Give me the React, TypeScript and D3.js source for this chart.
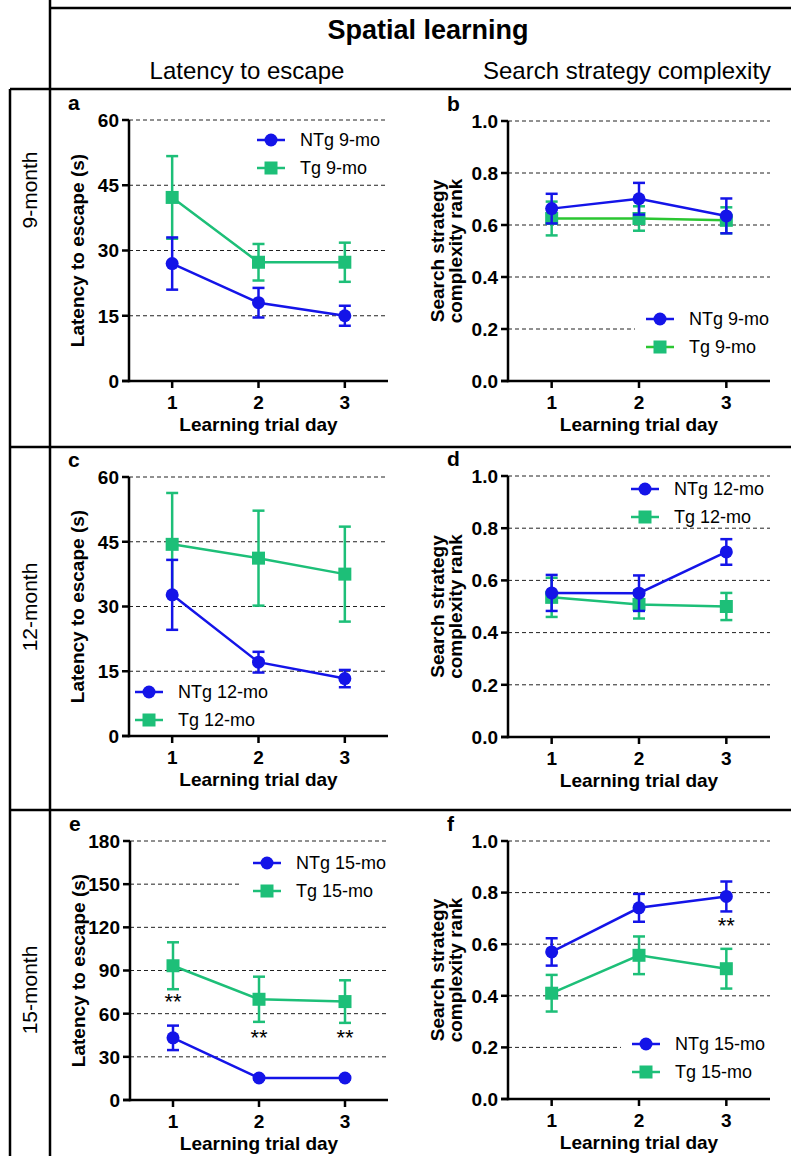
import React, { useEffect } from "react";
import * as d3 from "d3";

const days = [1, 2, 3];
const dayTicks = ["1", "2", "3"];

// Panel a (9-month latency)
const aNTg = [27, 18, 15];
const aNTgErr = [6, 3.4, 2.3];
const aTg = [42.2, 27.3, 27.3];
const aTgErr = [9.5, 4.2, 4.5];
// Panel b (9-month complexity)
const bNTg = [0.663, 0.701, 0.635];
const bNTgErr = [0.057, 0.061, 0.067];
const bTg = [0.625, 0.625, 0.618];
const bTgErr = [0.065, 0.047, 0.05];
// Panel c (12-month latency)
const cNTg = [32.7, 17.1, 13.3];
const cNTgErr = [8.1, 2.4, 2.0];
const cTg = [44.4, 41.2, 37.5];
const cTgErr = [11.9, 11.0, 11.0];
// Panel d (12-month complexity)
const dNTg = [0.552, 0.551, 0.709];
const dNTgErr = [0.069, 0.068, 0.049];
const dTg = [0.535, 0.508, 0.5];
const dTgErr = [0.075, 0.054, 0.052];
// Panel e (15-month latency)
const eNTg = [43.2, 15.3, 15.3];
const eNTgErr = [8.5, 1.0, 1.0];
const eTg = [93.3, 70, 68.4];
const eTgErr = [16.3, 15.7, 14.8];
// Panel f (15-month complexity)
const fNTg = [0.57, 0.741, 0.785];
const fNTgErr = [0.053, 0.054, 0.058];
const fTg = [0.41, 0.557, 0.505];
const fTgErr = [0.071, 0.073, 0.077];

const latTicks9 = [0, 15, 30, 45, 60];
const latTicks15 = [0, 30, 60, 90, 120, 150, 180];
const rankTicks = [0, 0.2, 0.4, 0.6, 0.8, 1.0];

const BLUE = "#1414E8";
const TEAL = "#1DBF78";
const GREEN = "#2BC632";
const FONT = "'Liberation Sans', Arial, Helvetica, sans-serif";

type Series = {
  label: string;
  values: number[];
  errs: number[];
  color: string;
  lineColor: string;
  shape: "circle" | "square";
};

type PanelProps = {
  letter: string;
  axisX: number;
  rightX: number;
  yTop: number;
  yBot: number;
  ticks: number[];
  fmt: (v: number) => string;
  yTitle: string[];
  series: Series[];
  legendOrder: number[];
  legendX: number;
  legendY: number;
  legendBox: boolean;
  stars: { day: number; value: number }[];
};

function Marker({ shape, x, y, color }: { shape: string; x: number; y: number; color: string }) {
  if (shape === "circle") return <circle cx={x} cy={y} r={6.5} fill={color} />;
  return <rect x={x - 6.5} y={y - 6.5} width={13} height={13} fill={color} />;
}

function Panel(p: PanelProps) {
  const x = d3.scaleLinear().domain([0.5, 3.5]).range([p.axisX, p.rightX]);
  const yMax = p.ticks[p.ticks.length - 1];
  const y = d3.scaleLinear().domain([0, yMax]).range([p.yBot, p.yTop]);
  const line = d3
    .line<number>()
    .x((_, i) => x(days[i]))
    .y((v) => y(v));
  const titleX = p.axisX - (p.yTitle.length === 1 ? 52 : 62);
  const midY = (p.yTop + p.yBot) / 2;
  const legendTop = p.legendY - 14;
  return (
    <g fontFamily={FONT}>
      <text x={p.axisX - 61} y={p.yTop - 10} fontSize={21} fontWeight="bold">
        {p.letter}
      </text>
      {p.ticks
        .filter((t) => t > 0)
        .map((t) => (
          <line
            key={"g" + t}
            x1={p.axisX}
            x2={p.rightX}
            y1={y(t)}
            y2={y(t)}
            stroke="#222"
            strokeWidth={1}
            strokeDasharray="4,3"
          />
        ))}
      {p.legendBox && (
        <rect
          x={p.legendX - 11}
          y={legendTop}
          width={p.rightX - p.legendX + 12}
          height={58}
          fill="#fff"
        />
      )}
      <line x1={p.axisX} x2={p.axisX} y1={p.yTop} y2={p.yBot + 1.25} stroke="#000" strokeWidth={2.5} />
      <line x1={p.axisX - 7} x2={p.rightX} y1={p.yBot} y2={p.yBot} stroke="#000" strokeWidth={2.5} />
      {p.ticks.map((t) => (
        <g key={"t" + t}>
          <line x1={p.axisX - 7} x2={p.axisX} y1={y(t)} y2={y(t)} stroke="#000" strokeWidth={2.5} />
          <text
            x={p.axisX - 10}
            y={y(t)}
            dy="0.36em"
            textAnchor="end"
            fontSize={19}
            fontWeight="bold"
          >
            {p.fmt(t)}
          </text>
        </g>
      ))}
      {days.map((d, i) => (
        <g key={"x" + d}>
          <line x1={x(d)} x2={x(d)} y1={p.yBot} y2={p.yBot + 7} stroke="#000" strokeWidth={2.5} />
          <text x={x(d)} y={p.yBot + 28} textAnchor="middle" fontSize={19} fontWeight="bold">
            {dayTicks[i]}
          </text>
        </g>
      ))}
      <text
        x={(p.axisX + p.rightX) / 2}
        y={p.yBot + 50}
        textAnchor="middle"
        fontSize={19}
        fontWeight="bold"
      >
        Learning trial day
      </text>
      <text
        transform={`translate(${titleX},${midY}) rotate(-90)`}
        textAnchor="middle"
        fontSize={19}
        fontWeight="bold"
      >
        {p.yTitle.map((s, i) => (
          <tspan key={i} x={0} dy={i === 0 ? (p.yTitle.length === 1 ? "0.35em" : "-0.1em") : "0.95em"}>
            {s}
          </tspan>
        ))}
      </text>
      {p.series.map((s, si) => (
        <g key={"s" + si}>
          {s.values.map((v, i) => (
            <g key={"e" + i} stroke={s.color} strokeWidth={2.5}>
              <line x1={x(days[i])} x2={x(days[i])} y1={y(v - s.errs[i])} y2={y(v + s.errs[i])} />
              <line x1={x(days[i]) - 6} x2={x(days[i]) + 6} y1={y(v + s.errs[i])} y2={y(v + s.errs[i])} />
              <line x1={x(days[i]) - 6} x2={x(days[i]) + 6} y1={y(v - s.errs[i])} y2={y(v - s.errs[i])} />
            </g>
          ))}
          <path d={line(s.values) || ""} fill="none" stroke={s.lineColor} strokeWidth={2.5} />
          {s.values.map((v, i) => (
            <Marker key={"m" + i} shape={s.shape} x={x(days[i])} y={y(v)} color={s.color} />
          ))}
        </g>
      ))}
      {p.stars.map((st, i) => (
        <text key={"st" + i} x={x(st.day)} y={y(st.value)} dy="0.55em" textAnchor="middle" fontSize={22}>
          **
        </text>
      ))}
      {p.legendOrder.map((si, k) => {
        const s = p.series[si];
        const ly = p.legendY + k * 28;
        return (
          <g key={"l" + k}>
            <line x1={p.legendX} x2={p.legendX + 28} y1={ly} y2={ly} stroke={s.lineColor} strokeWidth={2.5} />
            <Marker shape={s.shape} x={p.legendX + 14} y={ly} color={s.color} />
            <text x={p.legendX + 43} y={ly} dy="0.36em" fontSize={18}>
              {s.label}
            </text>
          </g>
        );
      })}
    </g>
  );
}

function mk(label: string, values: number[], errs: number[], color: string, lineColor: string, shape: "circle" | "square"): Series {
  return { label, values, errs, color, lineColor, shape };
}

export default function App() {
  useEffect(() => {
    document.body.style.margin = "0";
  }, []);
  const latFmt = (v: number) => String(v);
  const rankFmt = (v: number) => v.toFixed(1);
  const LX = 129;
  const LR = 388;
  const RX = 508;
  const RR = 770;
  return (
    <svg width={791} height={1156} style={{ display: "block", background: "#fff" }} fontFamily={FONT}>
      <rect x={0} y={0} width={791} height={1156} fill="#fff" />
      <g stroke="#000" strokeWidth={2.5}>
        <line x1={50} x2={791} y1={8} y2={8} />
        <line x1={50} x2={50} y1={0} y2={1156} />
        <line x1={10} x2={791} y1={89} y2={89} />
        <line x1={10} x2={791} y1={447} y2={447} />
        <line x1={10} x2={791} y1={810} y2={810} />
        <line x1={10} x2={10} y1={89} y2={1156} />
      </g>
      <text x={428} y={39} textAnchor="middle" fontSize={27} fontWeight="bold">
        Spatial learning
      </text>
      <text x={247} y={79} textAnchor="middle" fontSize={24}>
        Latency to escape
      </text>
      <text x={627} y={79} textAnchor="middle" fontSize={24}>
        Search strategy complexity
      </text>
      {[
        { t: "9-month", c: 190 },
        { t: "12-month", c: 607 },
        { t: "15-month", c: 990 },
      ].map((r) => (
        <text key={r.t} transform={`translate(30,${r.c}) rotate(-90)`} textAnchor="middle" dy="0.35em" fontSize={21}>
          {r.t}
        </text>
      ))}

      <Panel
        letter="a"
        axisX={LX}
        rightX={LR}
        yTop={120}
        yBot={381}
        ticks={latTicks9}
        fmt={latFmt}
        yTitle={["Latency to escape (s)"]}
        series={[mk("Tg 9-mo", aTg, aTgErr, TEAL, TEAL, "square"), mk("NTg 9-mo", aNTg, aNTgErr, BLUE, BLUE, "circle")]}
        legendOrder={[1, 0]}
        legendX={257}
        legendY={140}
        legendBox={false}
        stars={[]}
      />
      <Panel
        letter="b"
        axisX={RX}
        rightX={RR}
        yTop={121}
        yBot={381}
        ticks={rankTicks}
        fmt={rankFmt}
        yTitle={["Search strategy", "complexity rank"]}
        series={[mk("Tg 9-mo", bTg, bTgErr, TEAL, GREEN, "square"), mk("NTg 9-mo", bNTg, bNTgErr, BLUE, BLUE, "circle")]}
        legendOrder={[1, 0]}
        legendX={646}
        legendY={319}
        legendBox={true}
        stars={[]}
      />
      <Panel
        letter="c"
        axisX={LX}
        rightX={LR}
        yTop={477}
        yBot={736}
        ticks={latTicks9}
        fmt={latFmt}
        yTitle={["Latency to escape (s)"]}
        series={[mk("Tg 12-mo", cTg, cTgErr, TEAL, TEAL, "square"), mk("NTg 12-mo", cNTg, cNTgErr, BLUE, BLUE, "circle")]}
        legendOrder={[1, 0]}
        legendX={135}
        legendY={692}
        legendBox={false}
        stars={[]}
      />
      <Panel
        letter="d"
        axisX={RX}
        rightX={RR}
        yTop={476}
        yBot={737}
        ticks={rankTicks}
        fmt={rankFmt}
        yTitle={["Search strategy", "complexity rank"]}
        series={[mk("Tg 12-mo", dTg, dTgErr, TEAL, TEAL, "square"), mk("NTg 12-mo", dNTg, dNTgErr, BLUE, BLUE, "circle")]}
        legendOrder={[1, 0]}
        legendX={631}
        legendY={489}
        legendBox={false}
        stars={[]}
      />
      <Panel
        letter="e"
        axisX={LX + 1}
        rightX={LR}
        yTop={841}
        yBot={1100}
        ticks={latTicks15}
        fmt={latFmt}
        yTitle={["Latency to escape (s)"]}
        series={[mk("Tg 15-mo", eTg, eTgErr, TEAL, TEAL, "square"), mk("NTg 15-mo", eNTg, eNTgErr, BLUE, BLUE, "circle")]}
        legendOrder={[1, 0]}
        legendX={253}
        legendY={863}
        legendBox={true}
        stars={[
          { day: 1, value: 71.6 },
          { day: 2, value: 46.6 },
          { day: 3, value: 46.6 },
        ]}
      />
      <Panel
        letter="f"
        axisX={RX}
        rightX={RR}
        yTop={841}
        yBot={1099}
        ticks={rankTicks}
        fmt={rankFmt}
        yTitle={["Search strategy", "complexity rank"]}
        series={[mk("Tg 15-mo", fTg, fTgErr, TEAL, TEAL, "square"), mk("NTg 15-mo", fNTg, fNTgErr, BLUE, BLUE, "circle")]}
        legendOrder={[1, 0]}
        legendX={632}
        legendY={1044}
        legendBox={true}
        stars={[{ day: 3, value: 0.69 }]}
      />
    </svg>
  );
}
